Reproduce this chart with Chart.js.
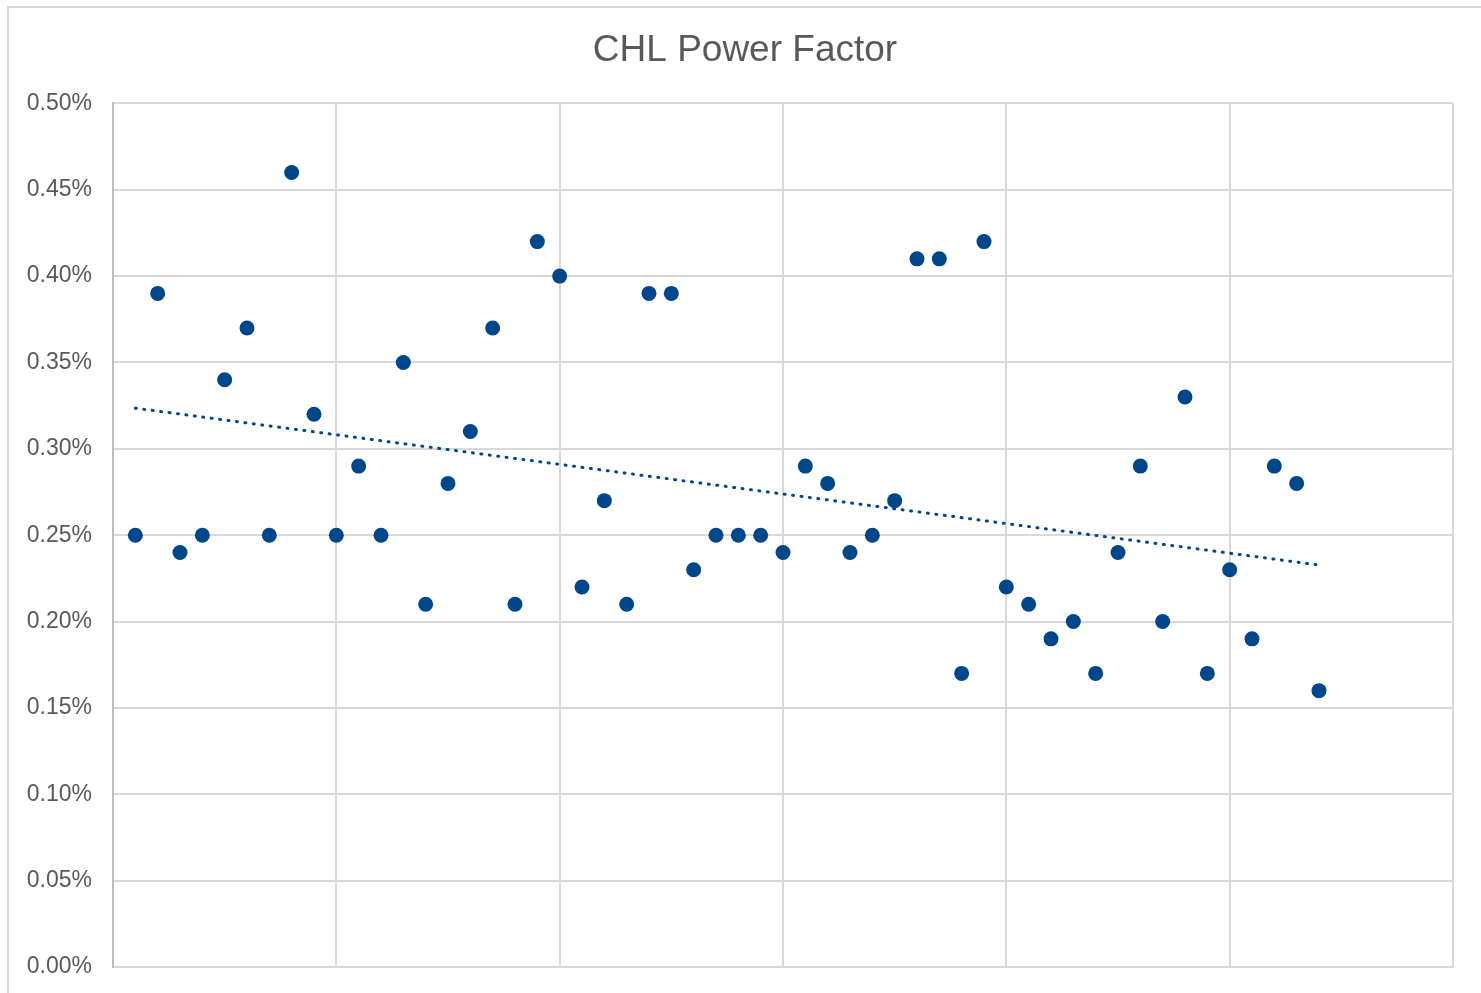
<!DOCTYPE html>
<html>
<head>
<meta charset="utf-8">
<script src="https://cdn.jsdelivr.net/npm/chart.js@4/dist/chart.umd.min.js"></script>
<style>
    html, body { margin: 0; padding: 0; background: #fff; overflow: hidden; }
    #frame {
        position: absolute; left: 7px; top: 6px; width: 1480px; height: 1000px;
        border: 2px solid #d9d9d9; box-sizing: border-box;
    }
    #wrap { position: absolute; left: 0; top: 0; width: 1481px; height: 993px; }
</style>
</head>
<body>
<div id="frame"></div>
<div id="wrap"><canvas id="chart"></canvas></div>
<script>
// sample number (1..54) and power factor in %
const sampleNo = [];
for (let i = 1; i <= 54; i++) sampleNo.push(i);

const powerFactor = [
    0.25, 0.39, 0.24, 0.25, 0.34, 0.37, 0.25, 0.46, 0.32, 0.25,
    0.29, 0.25, 0.35, 0.21, 0.28, 0.31, 0.37, 0.21, 0.42, 0.40,
    0.22, 0.27, 0.21, 0.39, 0.39, 0.23, 0.25, 0.25, 0.25, 0.24,
    0.29, 0.28, 0.24, 0.25, 0.27, 0.41, 0.41, 0.17, 0.42, 0.22,
    0.21, 0.19, 0.20, 0.17, 0.24, 0.29, 0.20, 0.33, 0.17, 0.23,
    0.19, 0.29, 0.28, 0.16
];

const yTicks = [0, 0.05, 0.10, 0.15, 0.20, 0.25, 0.30, 0.35, 0.40, 0.45, 0.50];

const blue = '#00468B';

// linear trendline (least squares)
const n = sampleNo.length;
const mx = sampleNo.reduce((a, b) => a + b, 0) / n;
const my = powerFactor.reduce((a, b) => a + b, 0) / n;
let sxy = 0, sxx = 0;
sampleNo.forEach((x, i) => {
    sxy += (x - mx) * (powerFactor[i] - my);
    sxx += (x - mx) * (x - mx);
});
const slope = sxy / sxx;
const intercept = my - slope * mx;
const xFirst = sampleNo[0], xLast = sampleNo[n - 1];
const trend = [
    { x: xFirst, y: intercept + slope * xFirst },
    { x: xLast, y: intercept + slope * xLast }
];

const points = sampleNo.map((x, i) => ({ x: x, y: powerFactor[i] }));

new Chart(document.getElementById('chart'), {
    type: 'scatter',
    data: {
        datasets: [{
            data: points,
            backgroundColor: blue,
            borderColor: blue,
            borderWidth: 0,
            pointRadius: 7.5,
            pointHoverRadius: 7.5
        }, {
            type: 'line',
            data: trend,
            borderColor: blue,
            borderWidth: 3,
            borderDash: [1, 7.5],
            borderCapStyle: 'round',
            pointRadius: 0,
            fill: false
        }]
    },
    options: {
        responsive: true,
        maintainAspectRatio: false,
        animation: false,
        layout: {
            padding: { left: 20, right: 11, top: 0, bottom: 26 }
        },
        scales: {
            x: {
                type: 'linear',
                min: 0,
                max: 60,
                ticks: { display: false, stepSize: 10 },
                grid: { color: '#d9d9d9', lineWidth: 2, drawTicks: false },
                border: { color: '#d9d9d9', width: 2 }
            },
            y: {
                min: 0,
                max: 0.5,
                afterBuildTicks: axis => {
                    axis.ticks = yTicks.map(v => ({ value: v }));
                },
                afterFit: axis => { axis.width = 93; },
                ticks: {
                    padding: 0,
                    color: '#595959',
                    font: { family: '"Liberation Sans", Arial, sans-serif', size: 23 },
                    callback: value => value.toFixed(2) + '%'
                },
                grid: { color: '#d9d9d9', lineWidth: 2, tickLength: 21, tickColor: 'rgba(0,0,0,0)' },
                border: { color: '#bfbfbf', width: 2 }
            },
            // empty spacer on the right so the title stays centred on the frame
            spacer: {
                position: 'right',
                afterFit: axis => { axis.width = 17; },
                ticks: { display: false },
                grid: { display: false, drawTicks: false },
                border: { display: false }
            }
        },
        plugins: {
            legend: { display: false },
            tooltip: { enabled: false },
            title: {
                display: true,
                text: 'CHL Power Factor',
                color: '#595959',
                font: { family: '"Liberation Sans", Arial, sans-serif', size: 37, weight: 'normal' },
                padding: { top: 29, bottom: 30 }
            }
        }
    }
});
</script>
</body>
</html>
